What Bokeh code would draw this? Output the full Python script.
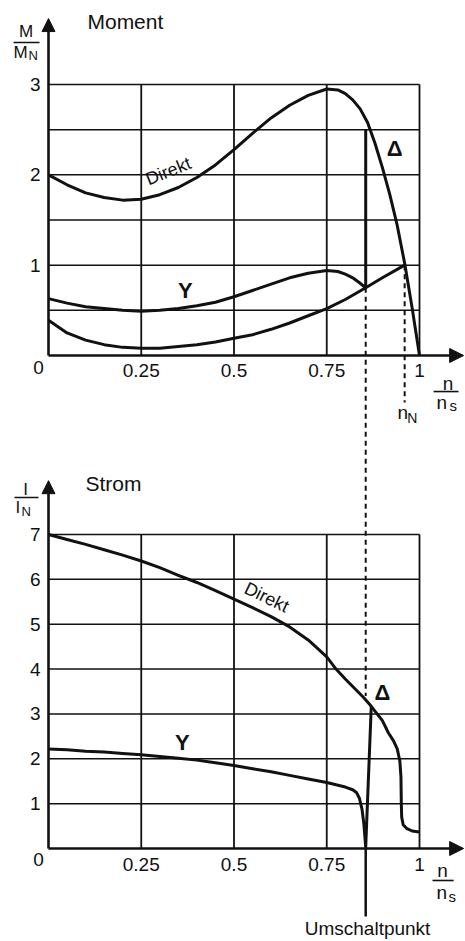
from bokeh.plotting import figure
from bokeh.models import Range1d, Arrow, NormalHead
from bokeh.core.properties import value
from bokeh.embed import file_html
from bokeh.resources import INLINE

# ---------------- data ----------------
speed_ticks = [0.25, 0.5, 0.75, 1.0]
speed_tick_labels = ["0.25", "0.5", "0.75", "1"]
torque_ticks = [1, 2, 3]
torque_grid = [0.5, 1.0, 1.5, 2.0, 2.5, 3.0]
current_ticks = [1, 2, 3, 4, 5, 6, 7]

# Moment (torque) – direct start (Delta)
m_direct_n = [0, 0.05, 0.1, 0.15, 0.2, 0.25, 0.3, 0.35, 0.4, 0.45, 0.5, 0.55, 0.6, 0.65,
              0.7, 0.75, 0.78, 0.8, 0.82, 0.84, 0.86, 0.88, 0.9, 0.92, 0.94, 0.96, 0.98, 1.0]
m_direct = [2.0, 1.89, 1.80, 1.75, 1.72, 1.73, 1.78, 1.86, 1.97, 2.11, 2.28, 2.46, 2.63, 2.77,
            2.88, 2.95, 2.94, 2.90, 2.83, 2.73, 2.58, 2.35, 2.08, 1.78, 1.44, 1.02, 0.53, 0.0]
# Moment – star (Y) connection, then switch to Delta
m_star_n = [0, 0.05, 0.1, 0.15, 0.2, 0.25, 0.3, 0.35, 0.4, 0.45, 0.5, 0.55, 0.6, 0.65,
            0.7, 0.75, 0.78, 0.8, 0.82, 0.84, 0.855, 0.855]
m_star = [0.63, 0.58, 0.54, 0.52, 0.50, 0.49, 0.50, 0.52, 0.55, 0.59, 0.65, 0.72, 0.79, 0.86,
          0.91, 0.94, 0.93, 0.90, 0.86, 0.80, 0.75, 2.5]
# Gegenmoment (load torque)
m_load_n = [0, 0.05, 0.1, 0.15, 0.2, 0.25, 0.3, 0.35, 0.4, 0.45, 0.5, 0.55, 0.6, 0.65,
            0.7, 0.75, 0.8, 0.855, 0.9, 0.96]
m_load = [0.39, 0.25, 0.17, 0.12, 0.09, 0.08, 0.08, 0.10, 0.12, 0.15, 0.19, 0.23, 0.29, 0.36,
          0.44, 0.52, 0.62, 0.75, 0.86, 1.0]

# Strom (current) – direct start
i_direct_n = [0, 0.05, 0.1, 0.15, 0.2, 0.25, 0.3, 0.35, 0.4, 0.45, 0.5, 0.55, 0.6, 0.65, 0.7,
              0.75, 0.775, 0.8, 0.85, 0.87, 0.9, 0.916, 0.93, 0.94, 0.947, 0.95, 0.951, 0.952,
              0.956, 0.965, 0.98, 1.0]
i_direct = [7.0, 6.89, 6.78, 6.66, 6.54, 6.41, 6.26, 6.09, 5.93, 5.75, 5.56, 5.37, 5.17, 4.94,
            4.65, 4.27, 4.0, 3.78, 3.36, 3.17, 2.85, 2.58, 2.40, 2.22, 1.95, 1.60, 1.0, 0.70,
            0.53, 0.45, 0.39, 0.37]
# Strom – star (Y) connection, then switch to Delta
i_star_n = [0, 0.05, 0.1, 0.15, 0.2, 0.25, 0.3, 0.35, 0.4, 0.45, 0.5, 0.55, 0.6, 0.65, 0.7,
            0.75, 0.8, 0.82, 0.83, 0.838, 0.845, 0.85, 0.853, 0.855, 0.87]
i_star = [2.22, 2.20, 2.17, 2.15, 2.12, 2.09, 2.05, 2.01, 1.97, 1.91, 1.85, 1.78, 1.71, 1.63, 1.55,
          1.47, 1.37, 1.31, 1.25, 1.12, 0.88, 0.55, 0.25, 0.03, 3.17]

switch_speed = 0.855      # Umschaltpunkt
switch_torque = 0.75
switch_current = 3.4
rated_speed = 0.96        # n_N
rated_torque = 1.0

# ---------------- layout constants (pixels of the 465x941 page) ----------------
W, H = 465, 941
X0_PX, X_UNIT = 48, 371.0
T0_PX, T_UNIT = 355, 90.33
C0_PX, C_UNIT = 848, 44.857


def cur_to_top(v):
    px = C0_PX - v * C_UNIT
    return (T0_PX - px) / T_UNIT


INK = "#111111"
FONT = value("Liberation Sans")

p = figure(width=W, height=H, output_backend="svg", toolbar_location=None,
           x_range=Range1d(-X0_PX / X_UNIT, (W - X0_PX) / X_UNIT),
           y_range=Range1d((T0_PX - H) / T_UNIT, T0_PX / T_UNIT),
           x_axis_type=None, y_axis_type=None, min_border=0,
           outline_line_color=None, background_fill_color="white",
           border_fill_color="white")
p.extra_y_ranges = {"cur": Range1d((C0_PX - H) / C_UNIT, C0_PX / C_UNIT)}
p.grid.visible = False

# ---------------- grids ----------------
p.segment(x0=speed_ticks, y0=[0] * 4, x1=speed_ticks, y1=[3] * 4, line_color=INK, line_width=1.8)
p.segment(x0=[0] * len(torque_grid), y0=torque_grid, x1=[1] * len(torque_grid), y1=torque_grid,
          line_color=INK, line_width=1.5)
p.segment(x0=speed_ticks, y0=[0] * 4, x1=speed_ticks, y1=[7] * 4, line_color=INK, line_width=1.8,
          y_range_name="cur")
p.segment(x0=[0] * 7, y0=current_ticks, x1=[1] * 7, y1=current_ticks, line_color=INK,
          line_width=1.5, y_range_name="cur")

# ---------------- axes with arrows ----------------
for rng, ytip in (("default", 3.73), ("cur", 8.2)):
    p.add_layout(Arrow(end=NormalHead(size=13, fill_color=INK, line_color=INK),
                       x_start=0, y_start=0, x_end=0, y_end=ytip, line_width=2.6,
                       line_color=INK, y_range_name=rng))
    p.add_layout(Arrow(end=NormalHead(size=14, fill_color=INK, line_color=INK),
                       x_start=0, y_start=0, x_end=1.119, y_end=0, line_width=2.6,
                       line_color=INK, y_range_name=rng))

# ---------------- curves ----------------
p.line(m_direct_n, m_direct, line_color=INK, line_width=3, line_join="round")
p.line(m_star_n, m_star, line_color=INK, line_width=3, line_join="round")
p.line(m_load_n, m_load, line_color=INK, line_width=3, line_join="round")
p.line(i_direct_n, i_direct, line_color=INK, line_width=3, line_join="round", y_range_name="cur")
p.line(i_star_n, i_star, line_color=INK, line_width=3, line_join="round", y_range_name="cur")

# dashed guides
p.line([switch_speed, switch_speed], [switch_torque, cur_to_top(switch_current)],
       line_color=INK, line_width=2, line_dash="5 4")
p.line([rated_speed, rated_speed], [rated_torque, -0.52], line_color=INK, line_width=2,
       line_dash="5 4")
# Umschaltpunkt marker line
p.line([switch_speed, switch_speed], [0, -1.516], line_color=INK, line_width=2.5,
       y_range_name="cur")


# ---------------- texts ----------------
def txt(x, y, t, size, align="left", rng="default", bold=False, angle=0):
    p.text(x=x, y=y, text=t, text_font=FONT, text_font_size=size, text_align=align,
           text_baseline="middle", text_color=INK, y_range_name=rng, angle=angle,
           text_font_style="bold" if bold else "normal")


# tick labels
txt([-0.0216] * 3, torque_ticks, [str(v) for v in torque_ticks], "19px", "right")
txt(speed_ticks, [-0.166] * 4, speed_tick_labels, "19px", "center")
txt([-0.027], [-0.133], ["0"], "19px", "center")
txt([-0.0216] * 7, current_ticks, [str(v) for v in current_ticks], "19px", "right", "cur")
txt(speed_ticks, [-0.357] * 4, speed_tick_labels, "19px", "center", "cur")
txt([-0.027], [-0.245], ["0"], "19px", "center", "cur")

# titles
txt([0.105], [3.703], ["Moment"], "21px")
txt([0.0997], [8.148], ["Strom"], "21px", rng="cur")

# M / M_N
txt([-0.0606], [3.587], ["M"], "17px", "center")
p.line([-0.0943, -0.0243], [3.465, 3.465], line_color=INK, line_width=1.6)
txt([-0.0943], [3.354], ["M"], "17px")
txt([-0.054], [3.322], ["N"], "13px")

# I / I_N
txt([-0.062], [8.003], ["I"], "17px", "center", rng="cur")
p.line([-0.0916, -0.027], [7.825, 7.825], line_color=INK, line_width=1.6, y_range_name="cur")
txt([-0.0889], [7.613], ["I"], "17px", rng="cur")
txt([-0.0728], [7.513], ["N"], "13px", rng="cur")

# n / n_s (top)
txt([1.077], [-0.31], ["n"], "19px", "center")
p.line([1.038, 1.105], [-0.399, -0.399], line_color=INK, line_width=1.6)
txt([1.046], [-0.52], ["n"], "19px")
txt([1.081], [-0.553], ["s"], "15px")
# n / n_s (bottom)
txt([1.062], [-0.49], ["n"], "19px", "center", rng="cur")
p.line([1.035, 1.092], [-0.713, -0.713], line_color=INK, line_width=1.6, y_range_name="cur")
txt([1.046], [-0.992], ["n"], "19px", rng="cur")
txt([1.078], [-1.059], ["s"], "15px", rng="cur")

# n_N
txt([0.941], [-0.631], ["n"], "19px")
txt([0.967], [-0.697], ["N"], "14px")

# curve labels
txt([0.323], [2.04], ["Direkt"], "18px", "center", angle=0.384)
txt([0.933], [2.29], ["Δ"], "22px", "center", bold=True)
txt([0.369], [0.72], ["Y"], "22px", "center", bold=True)
txt([0.588], [5.6], ["Direkt"], "18px", "center", "cur", angle=-0.454)
txt([0.9], [3.48], ["Δ"], "22px", "center", "cur", bold=True)
txt([0.361], [2.36], ["Y"], "22px", "center", "cur", bold=True)
txt([0.86], [-1.783], ["Umschaltpunkt"], "19px", "center", rng="cur")

open("out.html", "w").write(file_html(p, INLINE))
